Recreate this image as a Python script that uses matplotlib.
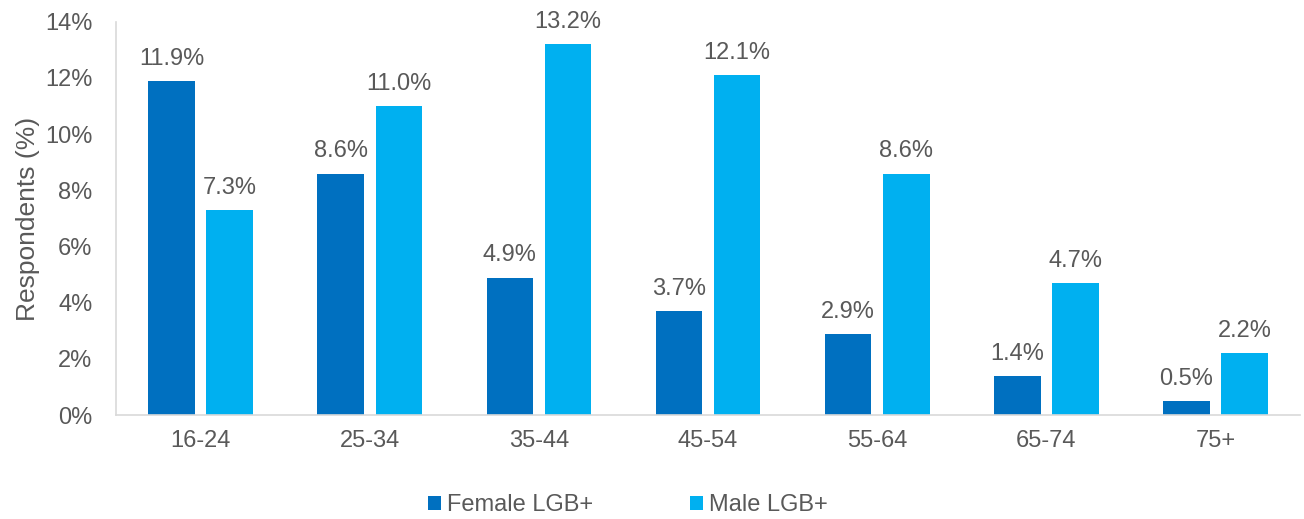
import matplotlib

matplotlib.use("Agg")
import matplotlib.pyplot as plt
import numpy as np

age_groups = ["16-24", "25-34", "35-44", "45-54", "55-64", "65-74", "75+"]
female_lgb = [11.9, 8.6, 4.9, 3.7, 2.9, 1.4, 0.5]
male_lgb = [7.3, 11.0, 13.2, 12.1, 8.6, 4.7, 2.2]
y_ticks = [0, 2, 4, 6, 8, 10, 12, 14]

TEXT = "#595959"
FS = 17
plt.rcParams["font.family"] = ["Liberation Sans", "DejaVu Sans"]

fig = plt.figure(figsize=(13.04, 5.19), dpi=100)
ax = fig.add_axes([0.089, 0.2, 0.908, 0.758])

x = np.arange(len(age_groups))
w = 0.275
off = 0.172
b1 = ax.bar(x - off, female_lgb, w, color="#0070C0", label="Female LGB+")
b2 = ax.bar(x + off, male_lgb, w, color="#00B0F0", label="Male LGB+")
for bars, vals in ((b1, female_lgb), (b2, male_lgb)):
    for b, v in zip(bars, vals):
        ax.annotate(f"{v:.1f}%", (b.get_x() + b.get_width() / 2, v),
                    xytext=(0, 8), textcoords="offset points",
                    ha="center", va="bottom", fontsize=FS, color=TEXT)

ax.set_xlim(-0.5, len(age_groups) - 0.5)
ax.set_ylim(0, 14)
ax.set_yticks(y_ticks)
ax.set_yticklabels([f"{t}%" for t in y_ticks])
ax.set_xticks(x)
ax.set_xticklabels(age_groups)
ax.tick_params(length=0, labelsize=FS, colors=TEXT)
ax.tick_params(axis="x", pad=11)
ax.tick_params(axis="y", pad=17)
ax.set_ylabel("Respondents (%)", fontsize=19, color=TEXT, labelpad=4)
for s in ("top", "right"):
    ax.spines[s].set_visible(False)
for s in ("left", "bottom"):
    ax.spines[s].set_color("#d9d9d9")
    ax.spines[s].set_linewidth(1.2)

fig.legend(loc="lower center", bbox_to_anchor=(0.4816, -0.036), ncol=2,
           frameon=False, fontsize=FS, labelcolor=TEXT, handlelength=0.55,
           handleheight=0.55, handletextpad=0.25, columnspacing=4.1)

fig.savefig("out.png", dpi=100)
